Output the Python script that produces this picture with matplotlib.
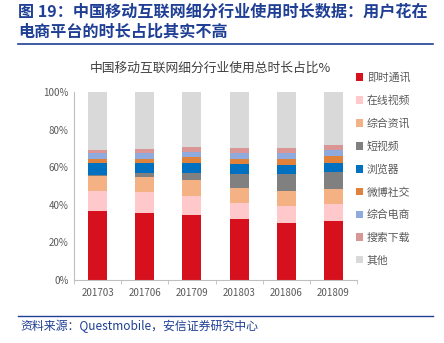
import matplotlib
matplotlib.use('Agg')
import matplotlib.pyplot as plt
import numpy as np

plt.rcParams['font.family'] = ['Noto Sans CJK SC', 'DejaVu Sans']

# data (share of total time, %)
periods = ['201703', '201706', '201709', '201803', '201806', '201809']
series_names = ['即时通讯', '在线视频', '综合资讯', '短视频', '浏览器',
                '微博社交', '综合电商', '搜索下载', '其他']
im = [36.9, 35.9, 34.8, 32.3, 30.2, 31.4]
video = [10.2, 10.8, 10.1, 8.6, 9.2, 9.1]
news = [8.0, 8.0, 8.4, 8.3, 8.0, 8.0]
short_video = [1.0, 2.1, 3.5, 7.3, 9.1, 9.2]
browser = [6.1, 5.7, 5.7, 5.3, 4.8, 4.8]
weibo = [2.3, 2.0, 2.9, 2.7, 3.2, 3.6]
ecommerce = [2.8, 3.0, 2.8, 3.0, 3.2, 2.8]
search = [1.6, 2.3, 2.3, 2.7, 2.5, 2.7]
others = [31.1, 30.2, 29.5, 29.8, 29.8, 28.4]
series = [im, video, news, short_video, browser, weibo, ecommerce, search, others]

colors = ['#d7101e', '#ffc9cb', '#f4b183', '#808080', '#0070c0',
          '#e0823b', '#8faadc', '#d99694', '#d9d9d9']

NAVY = '#1f3f95'
TXT = '#595959'

fig = plt.figure(figsize=(4.44, 3.43), dpi=100)
fig.patch.set_facecolor('white')

# header
fig.text(18/444, 1-11/343, '图 19：中国移动互联网细分行业使用时长数据：用户花在',
         fontsize=11.6, fontweight='bold', color=NAVY, ha='left', va='center')
fig.text(18/444, 1-32/343, '电商平台的时长占比其实不高',
         fontsize=11.6, fontweight='bold', color=NAVY, ha='left', va='center')
fig.add_artist(plt.Line2D([18/444, 433/444], [1-44/343, 1-44/343],
                          color=NAVY, lw=1.2))

# chart title
fig.text(210/444, 1-68/343, '中国移动互联网细分行业使用总时长占比%',
         fontsize=9.2, color='#404040', ha='center', va='center')

ax = fig.add_axes([74/444, 1-280/343, 283/444, 188/343])
x = np.arange(len(periods))
bottom = np.zeros(len(periods))
for vals, name, c in zip(series, series_names, colors):
    ax.bar(x, vals, 0.4, bottom=bottom, color=c, label=name)
    bottom += np.array(vals)

ax.set_xlim(-0.5, len(periods) - 0.5)
ax.set_ylim(0, 100)
ax.set_yticks(range(0, 101, 20))
ax.set_yticklabels([f'{v}%' for v in range(0, 101, 20)])
ax.set_xticks(x)
ax.set_xticklabels(periods)
ax.tick_params(axis='both', labelsize=7, colors=TXT, length=0, pad=4)
ax.tick_params(axis='x', pad=6)
for s in ['top', 'right']:
    ax.spines[s].set_visible(False)
for s in ['left', 'bottom']:
    ax.spines[s].set_color('#bfbfbf')
    ax.spines[s].set_linewidth(0.8)
# minor ticks between categories on x axis
ax.set_xticks(np.arange(-0.5, len(periods), 1), minor=True)
ax.tick_params(axis='x', which='minor', length=3, color='#bfbfbf')

leg = ax.legend(loc='upper left', bbox_to_anchor=(0.995, 1.105), frameon=False,
                fontsize=7.8, handlelength=0.7, handleheight=0.7,
                handletextpad=0.35, labelspacing=1.15, labelcolor=TXT,
                borderaxespad=0, borderpad=0)

# footer
fig.add_artist(plt.Line2D([18/444, 433/444], [1-316/343, 1-316/343],
                          color=NAVY, lw=1.0))
fig.text(20/444, 1-326/343, '资料来源：Questmobile，安信证券研究中心',
         fontsize=8.6, color=NAVY, style='italic', ha='left', va='center')

fig.savefig('out.png', dpi=100, facecolor='white')
